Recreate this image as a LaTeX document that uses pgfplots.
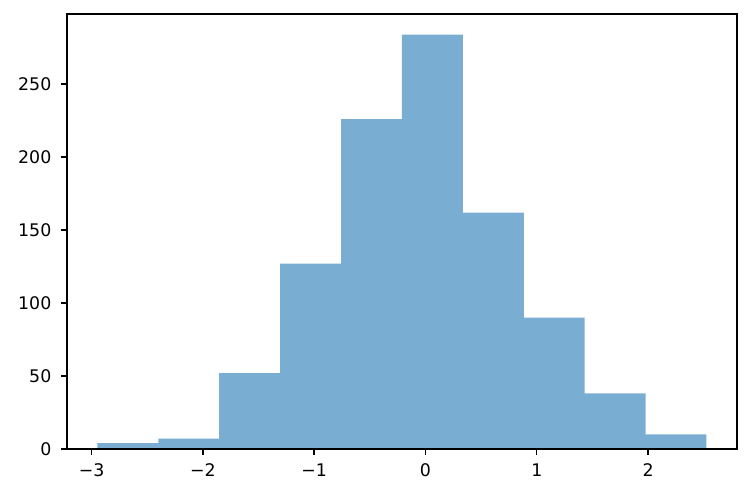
\documentclass[border=0pt]{standalone}
\usepackage{fontspec}
\setmainfont{DejaVu Sans}
\usepackage{pgfplots}
\pgfplotsset{compat=1.18}
\definecolor{histblue}{HTML}{79ADD2}
\begin{document}
\begin{tikzpicture}
\begin{axis}[
    scale only axis,
    width=386pt, height=250.6pt,
    xmin=-3.221, xmax=2.799,
    ymin=0, ymax=298.2,
    axis on top,
    axis line style={black, line width=0.8pt},
    tick align=outside,
    major tick length=3.5pt,
    every tick/.style={black, line width=0.8pt},
    xtick={-3,-2,-1,0,1,2},
    xticklabels={−3,−2,−1,0,1,2},
    ytick={0,50,100,150,200,250},
    yticklabels={0,50,100,150,200,250},
    xtick pos=bottom, ytick pos=left,
    ticklabel style={font=\fontsize{10}{12}\selectfont},
    xticklabel style={yshift=-1.5pt},
    yticklabel style={xshift=-2pt},
    ]
\addplot[ybar interval, fill=histblue, draw=none] coordinates {
    (-2.947,4) (-2.400,7) (-1.853,52) (-1.305,127) (-0.758,226)
    (-0.211,284) (0.336,162) (0.884,90) (1.431,38) (1.978,10) (2.525,10)
};
\end{axis}
\pgfresetboundingbox
\path ([xshift=-38.6pt,yshift=-27pt]current axis.south west) rectangle ([xshift=7.5pt,yshift=8pt]current axis.north east);
\end{tikzpicture}
\end{document}
